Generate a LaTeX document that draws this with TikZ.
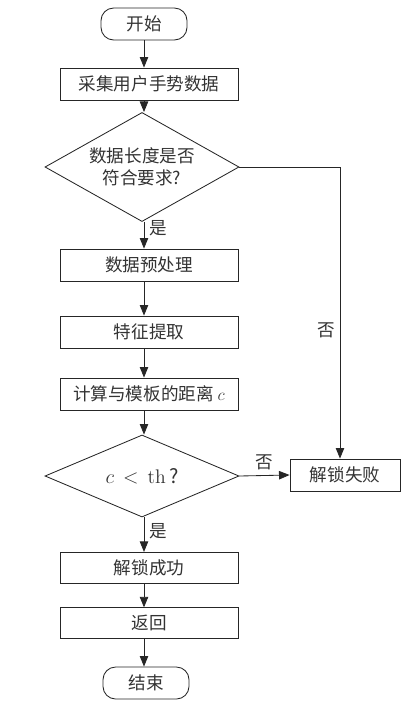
\documentclass[tikz,border=0pt]{standalone}
\usepackage{fontspec}
\usepackage{tikz}
\usetikzlibrary{shapes.geometric, arrows.meta, positioning, calc}
\newfontfamily\cjk{Noto Sans CJK SC}
\tikzset{
  procbox/.style={
    rectangle, draw=black!85, line width=0.6pt, minimum width=4.45cm,
    minimum height=0.8cm, inner sep=0pt, text centered
  },
  termbox/.style={
    rectangle, rounded corners=9pt, draw=black!85, line width=0.6pt,
    minimum width=2.15cm, minimum height=0.8cm, inner sep=0pt, text centered
  },
  decbox/.style={
    diamond, draw=black!85, line width=0.6pt, aspect=1.5, inner sep=0pt,
    minimum width=4.85cm, minimum height=2.05cm, text centered, align=center
  },
  arrow/.style={-{Triangle[length=7.5pt,width=6pt]}, line width=0.6pt, black!85}
}

\begin{document}
\begin{tikzpicture}[x=0.025cm, y=-0.025cm,
  font=\cjk\fontsize{12.5}{16}\selectfont, text=black!80,
  lbl/.style={font=\cjk\fontsize{12.5}{16}\selectfont, text=black!80}]
  \useasboundingbox (0,0) rectangle (418,705);

  \node[termbox] (start) at (144,24)  {开始};
  \node[procbox] (collect) at (149,84)  {采集用户手势数据};
  \node[decbox]  (lencheck) at (142,167) {数据长度是否\\符合要求?};
  \node[procbox] (prep) at (149,265) {数据预处理};
  \node[procbox] (feat) at (149,332) {特征提取};
  \node[procbox] (dist) at (149,394) {计算与模板的距离 $c$};
  \node[decbox, font=\cjk\fontsize{14}{16}\selectfont] (thcheck) at (142,476)
    {$c\,<\,\mathrm{th}$\,?};
  \node[procbox, minimum width=2.75cm] (fail) at (345,475) {解锁失败};
  \node[procbox, minimum height=0.78cm] (ok) at (149,568) {解锁成功};
  \node[procbox, minimum height=0.76cm] (ret) at (149,623) {返回};
  \node[termbox] (stop) at (146,683) {结束};

  \foreach \f/\t in {start/collect,collect/lencheck,prep/feat,feat/dist,dist/thcheck,ok/ret,ret/stop}
    \draw[arrow] (\f.south -| start.south) -- (\t.north -| start.south);
  \draw[arrow] (lencheck.south -| start.south) -- node[lbl, right, pos=0.25]{是}
    (prep.north -| start.south);
  \draw[arrow] (thcheck.south -| start.south) -- node[lbl, right, pos=0.4]{是}
    (ok.north -| start.south);
  \draw[arrow] (lencheck.east) -| node[lbl, left, pos=0.78]{否}
    ($(fail.north)+(-5,0)$);
  \draw[arrow] (thcheck.east) -- node[lbl, above]{否} (fail.west);
\end{tikzpicture}
\end{document}
